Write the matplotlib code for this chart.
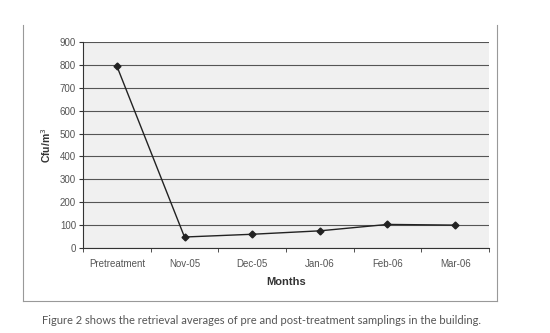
import matplotlib
matplotlib.use("Agg")
import matplotlib.pyplot as plt
from matplotlib.lines import Line2D

categories = ["Pretreatment", "Nov-05", "Dec-05", "Jan-06", "Feb-06", "Mar-06"]
values = [795, 48, 60, 75, 103, 100]
yticks = [0, 100, 200, 300, 400, 500, 600, 700, 800, 900]

W, H = 550, 333
fig = plt.figure(figsize=(W/100, H/100), dpi=100)
fig.patch.set_facecolor("white")

left, right, top, bottom = 83, 489, 42, 248
ax = fig.add_axes([left/W, 1-bottom/H, (right-left)/W, (bottom-top)/H])
ax.set_facecolor("#f0f0f0")

x = list(range(len(categories)))
ax.plot(x, values, color="#222222", lw=1.0, marker="D", ms=3.5,
        markerfacecolor="#222222", markeredgecolor="#222222", zorder=3)

ax.set_xlim(-0.5, len(categories)-0.5)
ax.set_ylim(0, 900)
ax.set_yticks(yticks)
ax.set_yticklabels([str(v) for v in yticks], fontsize=7, color="#555555", family="Liberation Sans")
ax.set_xticks(x)
ax.set_xticklabels(categories, fontsize=7, color="#555555", family="Liberation Sans")
ax.tick_params(axis="x", length=0, pad=8)
ax.set_xticks([i+0.5 for i in range(-1, len(categories))], minor=True)
ax.tick_params(axis="x", which="minor", length=3, color="#333333")
ax.tick_params(axis="y", length=3, color="#333333", pad=2)
ax.grid(axis="y", color="#555555", lw=0.8)
ax.set_axisbelow(True)
for s in ["top", "right"]:
    ax.spines[s].set_visible(False)
ax.spines["left"].set_color("#333333")
ax.spines["bottom"].set_color("#333333")

ax.set_xlabel("Months", fontsize=8, fontweight="bold", family="Liberation Sans", color="#333333", labelpad=6)
ax.set_ylabel("Cfu/m$^3$", fontsize=7.5, fontweight="bold", family="Liberation Sans", color="#333333", labelpad=5)

# outer frame
def fx(px): return px/W
def fy(py): return 1-py/H
fig.add_artist(Line2D([fx(23), fx(23)], [fy(25), fy(301)], color="#999999", lw=0.8))
fig.add_artist(Line2D([fx(497), fx(497)], [fy(25), fy(301)], color="#999999", lw=0.8))
fig.add_artist(Line2D([fx(23), fx(497)], [fy(301), fy(301)], color="#999999", lw=0.8))

fig.text(fx(261), fy(320), "Figure 2 shows the retrieval averages of pre and post-treatment samplings in the building.",
         ha="center", va="center", fontsize=8, color="#555555", family="Lato")

fig.savefig("out.png", dpi=100)
